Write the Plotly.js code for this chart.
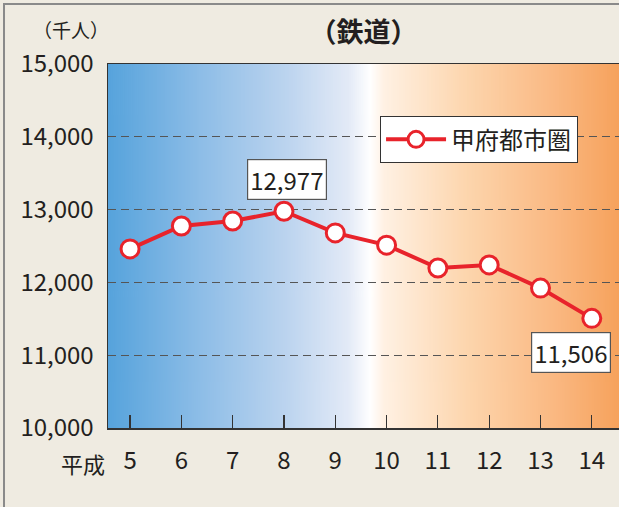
<!DOCTYPE html>
<html><head><meta charset="utf-8">
<script src="https://cdn.plot.ly/plotly-3.0.1.min.js"></script>
<style>html,body{margin:0;padding:0;background:#efebe1;}</style>
</head><body>
<div id="chart" style="width:619px;height:507px;"></div>
<script>
const years = [5, 6, 7, 8, 9, 10, 11, 12, 13, 14];
const riders = [12460, 12775, 12843, 12977, 12680, 12512, 12198, 12240, 11922, 11506];
const seriesName = '甲府都市圏';
const yTicks = [10000, 11000, 12000, 13000, 14000, 15000];

// gradient background as data URL
const cv = document.createElement('canvas');
cv.width = 512; cv.height = 4;
const ctx = cv.getContext('2d');
const g = ctx.createLinearGradient(0, 0, 512, 0);
g.addColorStop(0.0, '#56a3dc');
g.addColorStop(0.18, '#8dbde7');
g.addColorStop(0.35, '#bcd4ef');
g.addColorStop(0.47, '#e3eaf7');
g.addColorStop(0.513, '#ffffff');
g.addColorStop(0.54, '#fff1e3');
g.addColorStop(0.70, '#fdd6ae');
g.addColorStop(0.88, '#fab780');
g.addColorStop(1.0, '#f6a25c');
ctx.fillStyle = g; ctx.fillRect(0, 0, 512, 4);
const bgURL = cv.toDataURL();

const FONT = '"Noto Sans CJK JP", "Noto Sans", sans-serif';

const trace = {
  x: years, y: riders, type: 'scatter', mode: 'lines+markers', name: seriesName,
  line: {color: '#e8232b', width: 4},
  marker: {size: 18, color: '#ffffff', line: {color: '#e8232b', width: 3}},
  hoverinfo: 'skip'
};

const layout = {
  width: 619, height: 507,
  margin: {l: 108, r: 0, t: 64, b: 79},
  paper_bgcolor: '#efebe1', plot_bgcolor: 'rgba(0,0,0,0)',
  font: {family: FONT, color: '#231f20'},
  title: {text: '（鉄道）', x: 0.5, xref: 'paper', xanchor: 'center', y: 0.935, yanchor: 'middle',
          font: {size: 27, family: FONT, color: '#231f20', weight: 'bold'}},
  showlegend: true,
  legend: {x: 0.532, y: 0.857, xanchor: 'left', yanchor: 'top', bgcolor: '#ffffff',
           bordercolor: '#333333', borderwidth: 1.2, itemwidth: 60,
           font: {size: 24, family: FONT, color: '#231f20'}},
  xaxis: {range: [4.57, 14.53], tickvals: years, ticktext: years.map(String),
          ticks: 'inside', ticklen: 13, tickwidth: 1.2, tickcolor: '#333',
          showgrid: false, zeroline: false, showline: true, linecolor: '#333', linewidth: 1.5, mirror: true,
          tickfont: {size: 24, family: FONT, color: '#231f20'}, ticklabelstandoff: 11, fixedrange: true},
  yaxis: {range: [10000, 15000], tickvals: yTicks, tickformat: ',d',
          ticks: '', showgrid: true, gridcolor: '#555555', griddash: '8px,5px', gridwidth: 1.3,
          zeroline: false, showline: true, linecolor: '#333', linewidth: 1.5, mirror: true,
          tickfont: {size: 24, family: FONT, color: '#231f20'}, ticklabelstandoff: 8, fixedrange: true},
  images: [{source: bgURL, xref: 'paper', yref: 'paper', x: 0, y: 1, sizex: 1, sizey: 1,
            sizing: 'stretch', xanchor: 'left', yanchor: 'top', layer: 'below'}],
  shapes: [{type: 'rect', xref: 'paper', yref: 'paper', x0: -0.2035, x1: 1.2, y0: -0.4, y1: 1.1648,
            line: {color: '#8a8a8a', width: 2}, fillcolor: 'rgba(0,0,0,0)'}],
  annotations: [
    {text: '（千人）', xref: 'paper', yref: 'paper', x: 0.006, y: 1.095, xanchor: 'right', yanchor: 'middle',
     showarrow: false, font: {size: 19, family: FONT, color: '#231f20'}},
    {text: '平成', xref: 'paper', yref: 'paper', x: -0.002, y: -0.097, xanchor: 'right', yanchor: 'middle',
     showarrow: false, font: {size: 22, family: FONT, color: '#231f20'}},
    {text: riders[3].toLocaleString('en-US'), x: years[3], y: riders[3], xref: 'x', yref: 'y',
     showarrow: false, yshift: 32, xshift: 3, bgcolor: '#ffffff', bordercolor: '#555', borderwidth: 1.2, borderpad: 2,
     font: {size: 24, family: FONT, color: '#231f20'}},
    {text: riders[9].toLocaleString('en-US'), x: years[9], y: riders[9], xref: 'x', yref: 'y',
     showarrow: false, yshift: -34, xshift: -21, bgcolor: '#ffffff', bordercolor: '#555', borderwidth: 1.2, borderpad: 2,
     font: {size: 24, family: FONT, color: '#231f20'}}
  ]
};

Plotly.newPlot('chart', [trace], layout, {displayModeBar: false, staticPlot: true});
</script>
</body></html>
